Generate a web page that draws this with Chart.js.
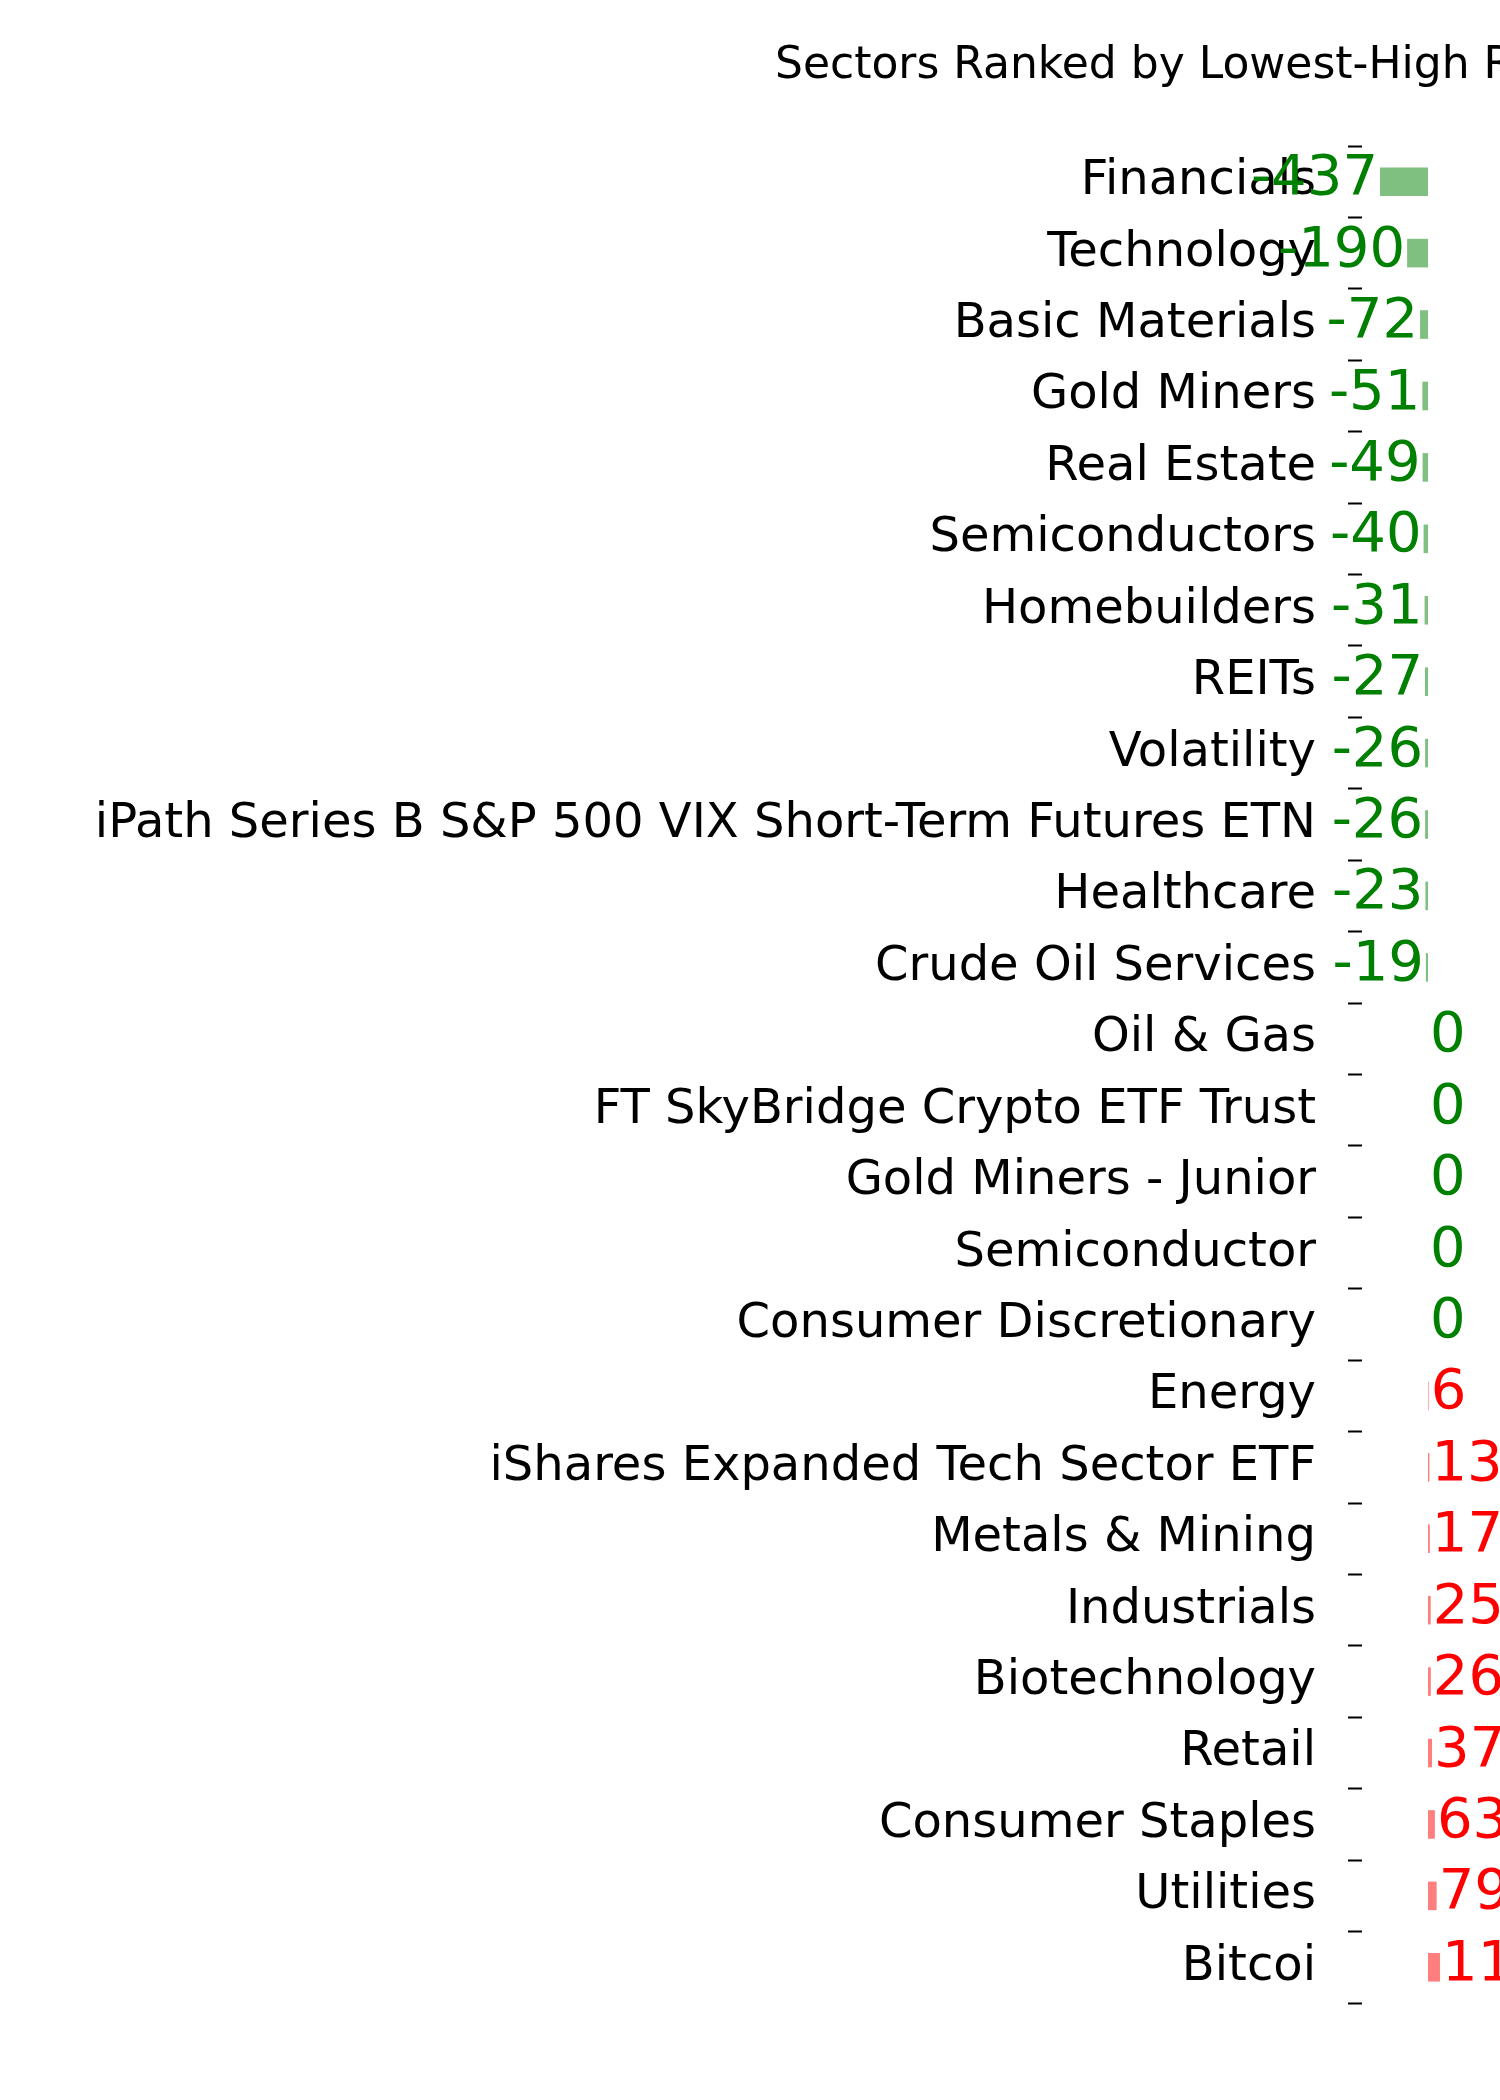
<!DOCTYPE html>
<html>
<head>
<meta charset="utf-8">
<script src="https://cdn.jsdelivr.net/npm/chart.js@4"></script>
<style>body{margin:0;background:#fff}</style>
</head>
<body>
<canvas id="sectorChart" width="1500" height="2100"></canvas>
<script>
const sectors = ['Financials', 'Technology', 'Basic Materials', 'Gold Miners', 'Real Estate',
  'Semiconductors', 'Homebuilders', 'REITs', 'Volatility',
  'iPath Series B S&P 500 VIX Short-Term Futures ETN', 'Healthcare', 'Crude Oil Services',
  'Oil & Gas', 'FT SkyBridge Crypto ETF Trust', 'Gold Miners - Junior', 'Semiconductor',
  'Consumer Discretionary', 'Energy', 'iShares Expanded Tech Sector ETF', 'Metals & Mining',
  'Industrials', 'Biotechnology', 'Retail', 'Consumer Staples', 'Utilities', 'Bitcoi'];
const ratios = [-437, -190, -72, -51, -49, -40, -31, -27, -26, -26, -23, -19,
  0, 0, 0, 0, 0, 6, 13, 17, 25, 26, 37, 63, 79, 110];

const ctx = document.getElementById('sectorChart');

const valueLabels = {
  id: 'valueLabels',
  afterDatasetsDraw(chart) {
    const c = chart.ctx;
    const meta = chart.getDatasetMeta(0);
    c.save();
    c.font = '56px "DejaVu Sans"';
    c.textBaseline = 'middle';
    meta.data.forEach((bar, i) => {
      const v = ratios[i];
      c.fillStyle = v > 0 ? '#ff0000' : '#008000';
      c.textAlign = v < 0 ? 'right' : 'left';
      c.fillText(String(v), bar.x + (v < 0 ? -2 : 2), bar.y - 2);
    });
    // title
    c.fillStyle = '#000';
    c.font = '44px "DejaVu Sans"';
    c.textAlign = 'left';
    c.fillText('Sectors Ranked by Lowest-High Ratio', 775, 67);
    c.restore();
  }
};

new Chart(ctx, {
  type: 'bar',
  data: {
    labels: sectors,
    datasets: [{
      data: ratios,
      backgroundColor: ratios.map(v => v > 0 ? 'rgba(255,0,0,0.5)' : 'rgba(0,128,0,0.5)'),
      barPercentage: 0.4,
      categoryPercentage: 1
    }]
  },
  options: {
    indexAxis: 'y',
    responsive: false,
    animation: false,
    layout: { padding: { top: 146, bottom: 97, left: 0, right: 0 } },
    plugins: { legend: { display: false }, tooltip: { enabled: false } },
    scales: {
      x: { display: false, min: -601, max: 656 },
      y: {
        afterFit: s => { s.width = 1362; },
        border: { display: false },
        grid: { drawOnChartArea: false, drawTicks: true, tickLength: 14, tickColor: '#000', tickWidth: 2 },
        ticks: { color: '#000', padding: 32, font: { family: 'DejaVu Sans', size: 48 } }
      }
    }
  },
  plugins: [valueLabels]
});
</script>
</body>
</html>
